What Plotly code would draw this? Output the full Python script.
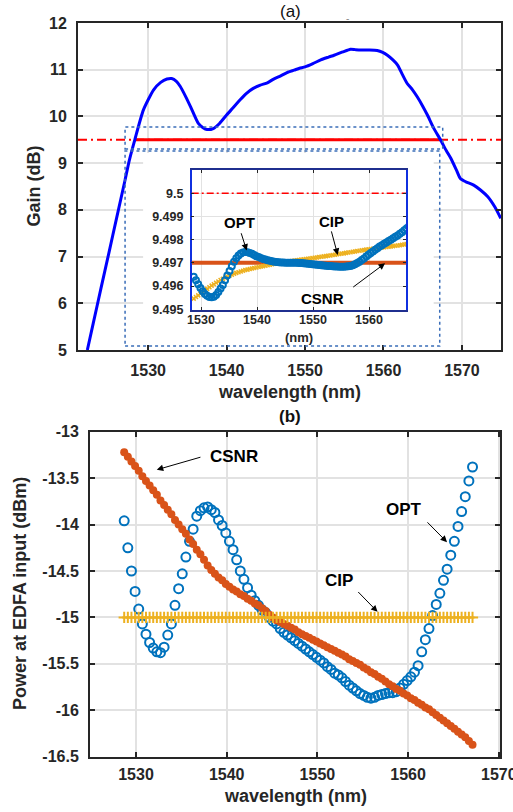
import plotly.graph_objects as go

# ---------------- data ----------------
# (a) EDFA gain spectrum
gain_wl = [1522.25, 1523.0, 1524.0, 1525.0, 1526.0, 1527.06, 1527.6, 1528.3, 1529.4, 1530.7,
           1531.6, 1532.4, 1533.0, 1533.6, 1534.1, 1534.8, 1535.4, 1536.4, 1537.0, 1537.5,
           1538.3, 1539.1, 1540.0, 1540.8, 1541.7, 1542.5, 1543.4, 1544.3, 1545.2, 1546.0,
           1546.9, 1547.7, 1548.6, 1549.3, 1550.0, 1551.0, 1552.0, 1553.0, 1553.7, 1554.8,
           1555.8, 1556.4, 1557.1, 1558.2, 1559.2, 1559.9, 1560.5, 1561.2, 1561.8, 1562.4,
           1563.0, 1563.7, 1564.3, 1565.0, 1565.6, 1566.4, 1567.3, 1568.0, 1568.6, 1569.3,
           1569.8, 1570.5, 1571.5, 1572.4, 1573.3, 1574.2, 1574.95]
gain_db = [5.00, 5.57, 6.33, 7.08, 7.84, 8.64, 9.06, 9.50, 10.14, 10.57,
           10.73, 10.80, 10.81, 10.75, 10.64, 10.42, 10.21, 9.85, 9.76, 9.72,
           9.74, 9.85, 10.03, 10.18, 10.35, 10.49, 10.60, 10.67, 10.72, 10.80,
           10.87, 10.94, 10.99, 11.03, 11.06, 11.13, 11.21, 11.27, 11.31, 11.38,
           11.44, 11.43, 11.42, 11.42, 11.41, 11.37, 11.31, 11.21, 11.10, 10.90,
           10.71, 10.57, 10.42, 10.22, 10.03, 9.75, 9.49, 9.27, 9.10, 8.85,
           8.67, 8.60, 8.53, 8.42, 8.28, 8.06, 7.82]

gain_target = 9.5                 # dB, flat-gain target
flat_band = [1528.3, 1567.3]      # band where gain >= target

# channel wavelengths (nm)
wl = [1528.7, 1529.1, 1529.5, 1529.9, 1530.3, 1530.7, 1531.1, 1531.5, 1531.9, 1532.3,
      1532.7, 1533.1, 1533.5, 1533.9, 1534.3, 1534.7, 1535.1, 1535.5, 1535.9, 1536.3,
      1536.7, 1537.1, 1537.5, 1537.9, 1538.3, 1538.7, 1539.1, 1539.5, 1539.9, 1540.3,
      1540.7, 1541.1, 1541.5, 1541.9, 1542.3, 1542.7, 1543.1, 1543.5, 1543.9, 1544.3,
      1544.7, 1545.1, 1545.5, 1545.9, 1546.3, 1546.7, 1547.1, 1547.5, 1547.9, 1548.3,
      1548.7, 1549.1, 1549.5, 1549.9, 1550.3, 1550.7, 1551.1, 1551.5, 1551.9, 1552.3,
      1552.7, 1553.1, 1553.5, 1553.9, 1554.3, 1554.7, 1555.1, 1555.5, 1555.9, 1556.3,
      1556.7, 1557.1, 1557.5, 1557.9, 1558.3, 1558.7, 1559.1, 1559.5, 1559.9, 1560.3,
      1560.7, 1561.1, 1561.5, 1561.9, 1562.3, 1562.7, 1563.1, 1563.5, 1563.9, 1564.3,
      1564.7, 1565.1, 1565.5, 1565.9, 1566.3, 1566.7, 1567.1]

# inset: gain seen by each channel (dB)
inset_opt = [9.49640, 9.49625, 9.49608, 9.49592, 9.49578, 9.49566, 9.49558, 9.49553, 9.49552, 9.49554,
             9.49562, 9.49575, 9.49590, 9.49605, 9.49625, 9.49646, 9.49665, 9.49685, 9.49705, 9.49720,
             9.49732, 9.49740, 9.49745, 9.49747, 9.49746, 9.49743, 9.49739, 9.49734, 9.49729, 9.49725,
             9.49721, 9.49717, 9.49714, 9.49711, 9.49709, 9.49707, 9.49705, 9.49704, 9.49703, 9.49702,
             9.49702, 9.49701, 9.49701, 9.49701, 9.49701, 9.49700, 9.49700, 9.49699, 9.49699, 9.49698,
             9.49697, 9.49696, 9.49695, 9.49694, 9.49693, 9.49692, 9.49691, 9.49690, 9.49689, 9.49688,
             9.49687, 9.49686, 9.49685, 9.49684, 9.49684, 9.49683, 9.49683, 9.49683, 9.49684, 9.49685,
             9.49687, 9.49690, 9.49694, 9.49699, 9.49705, 9.49712, 9.49719, 9.49727, 9.49735, 9.49742,
             9.49749, 9.49756, 9.49763, 9.49770, 9.49776, 9.49782, 9.49788, 9.49794, 9.49800, 9.49806,
             9.49812, 9.49818, 9.49825, 9.49832, 9.49840, 9.49848, 9.49856]
inset_cip = [9.49546, 9.49553, 9.49560, 9.49567, 9.49574, 9.49581, 9.49588, 9.49595, 9.49602, 9.49608,
             9.49614, 9.49620, 9.49626, 9.49631, 9.49636, 9.49641, 9.49645, 9.49649, 9.49653, 9.49657,
             9.49660, 9.49663, 9.49666, 9.49669, 9.49671, 9.49674, 9.49676, 9.49678, 9.49680, 9.49682,
             9.49684, 9.49686, 9.49688, 9.49690, 9.49692, 9.49694, 9.49696, 9.49698, 9.49699, 9.49701,
             9.49702, 9.49704, 9.49705, 9.49707, 9.49708, 9.49710, 9.49711, 9.49712, 9.49714, 9.49715,
             9.49717, 9.49718, 9.49719, 9.49721, 9.49722, 9.49723, 9.49725, 9.49726, 9.49728, 9.49729,
             9.49731, 9.49732, 9.49734, 9.49735, 9.49737, 9.49738, 9.49740, 9.49741, 9.49743, 9.49745,
             9.49746, 9.49748, 9.49749, 9.49751, 9.49752, 9.49754, 9.49755, 9.49757, 9.49758, 9.49760,
             9.49761, 9.49762, 9.49764, 9.49765, 9.49766, 9.49767, 9.49768, 9.49770, 9.49771, 9.49772,
             9.49774, 9.49775, 9.49776, 9.49778, 9.49779, 9.49781, 9.49782]
inset_csnr_wl = [1528.3, 1567.3]
inset_csnr = [9.497, 9.497]

# (b) channel power at EDFA input (dBm)
p_opt = [-13.96, -14.25, -14.50, -14.72, -14.91, -15.07, -15.18, -15.27, -15.33, -15.37,
         -15.38, -15.32, -15.19, -15.07, -14.87, -14.69, -14.53, -14.35, -14.18, -14.05,
         -13.91, -13.85, -13.82, -13.81, -13.84, -13.87, -13.95, -14.01, -14.09, -14.18,
         -14.27, -14.38, -14.50, -14.59, -14.68, -14.76, -14.82, -14.87, -14.92, -14.95,
         -15.00, -15.04, -15.07, -15.12, -15.16, -15.19, -15.22, -15.25, -15.28, -15.31,
         -15.34, -15.37, -15.40, -15.43, -15.46, -15.49, -15.53, -15.56, -15.60, -15.62,
         -15.65, -15.69, -15.73, -15.76, -15.79, -15.82, -15.84, -15.86, -15.87, -15.86,
         -15.84, -15.83, -15.82, -15.81, -15.81, -15.80, -15.76, -15.72, -15.68, -15.64,
         -15.59, -15.52, -15.37, -15.24, -15.12, -14.98, -14.86, -14.74, -14.60, -14.48,
         -14.33, -14.18, -14.02, -13.86, -13.70, -13.53, -13.38]
p_csnr = [-13.22, -13.27, -13.32, -13.37, -13.42, -13.48, -13.53, -13.58, -13.63, -13.68,
          -13.74, -13.79, -13.84, -13.89, -13.95, -14.00, -14.05, -14.10, -14.16, -14.21,
          -14.27, -14.32, -14.38, -14.44, -14.49, -14.53, -14.57, -14.60, -14.64, -14.67,
          -14.70, -14.72, -14.75, -14.77, -14.80, -14.82, -14.85, -14.87, -14.90, -14.93,
          -14.97, -15.00, -15.03, -15.05, -15.07, -15.09, -15.11, -15.13, -15.16, -15.18,
          -15.20, -15.22, -15.24, -15.26, -15.28, -15.30, -15.32, -15.34, -15.36, -15.38,
          -15.40, -15.42, -15.45, -15.47, -15.49, -15.51, -15.54, -15.56, -15.59, -15.61,
          -15.64, -15.66, -15.69, -15.72, -15.74, -15.77, -15.79, -15.82, -15.84, -15.87,
          -15.89, -15.92, -15.94, -15.97, -15.99, -16.02, -16.05, -16.08, -16.11, -16.14,
          -16.17, -16.20, -16.23, -16.26, -16.29, -16.33, -16.37]
p_cip = [-15.0] * len(wl)

# axis ticks
gain_ticks = [5, 6, 7, 8, 9, 10, 11, 12]
wl_ticks = [1530, 1540, 1550, 1560, 1570]
inset_wl_ticks = [1530, 1540, 1550, 1560]
inset_gain_ticks = [9.495, 9.496, 9.497, 9.498, 9.499, 9.5]
inset_gain_text = ["9.495", "9.496", "9.497", "9.498", "9.499", "9.5"]
power_ticks = [-16.5, -16, -15.5, -15, -14.5, -14, -13.5, -13]
power_text = ["-16.5", "-16", "-15.5", "-15", "-14.5", "-14", "-13.5", "-13"]

# ---------------- styling ----------------
W, H = 513, 812
FONT = "Liberation Sans, Arial, sans-serif"
DARK = "#262626"
GRID = "#E2E2E2"
C_OPT = "#0072BD"
C_CSNR = "#D95319"
C_CIP = "#EDB120"
DASHDOT = "9px,4px,2px,4px"


def px_x(p):
    return p / W


def px_y(p):
    return 1 - p / H


fig = go.Figure()

# ---- (a) gain spectrum ----
xa_range = [1521.06, 1574.98]
fig.add_trace(go.Scatter(x=xa_range, y=[gain_target, gain_target], mode="lines",
                         line=dict(color="#FF0000", width=2, dash=DASHDOT),
                         xaxis="x", yaxis="y", showlegend=False))
fig.add_trace(go.Scatter(x=flat_band, y=[gain_target, gain_target], mode="lines",
                         line=dict(color="#FF0000", width=3),
                         xaxis="x", yaxis="y", showlegend=False))
fig.add_trace(go.Scatter(x=gain_wl, y=gain_db, mode="lines",
                         line=dict(color="#0000FF", width=3, shape="spline", smoothing=0.6),
                         xaxis="x", yaxis="y", showlegend=False))

# ---- inset ----
xi_range = [1528.34, 1566.6]
fig.add_trace(go.Scatter(x=xi_range, y=[gain_target, gain_target], mode="lines",
                         line=dict(color="#FF0000", width=1.5, dash="7px,3px,2px,3px"),
                         xaxis="x2", yaxis="y2", showlegend=False))
fig.add_trace(go.Scatter(x=inset_csnr_wl, y=inset_csnr, mode="lines",
                         line=dict(color=C_CSNR, width=4),
                         xaxis="x2", yaxis="y2", showlegend=False))
fig.add_trace(go.Scatter(x=wl, y=inset_cip, mode="markers",
                         marker=dict(symbol="x-thin-open", size=4, color=C_CIP,
                                     line=dict(color=C_CIP, width=1.5)),
                         xaxis="x2", yaxis="y2", showlegend=False))
fig.add_trace(go.Scatter(x=wl, y=inset_opt, mode="markers",
                         marker=dict(symbol="circle-open", size=6, color=C_OPT, line=dict(width=2)),
                         xaxis="x2", yaxis="y2", showlegend=False))

# ---- (b) input power ----
fig.add_trace(go.Scatter(x=wl, y=p_opt, mode="markers",
                         marker=dict(symbol="circle-open", size=9, color=C_OPT, line=dict(width=2)),
                         xaxis="x3", yaxis="y3", showlegend=False))
fig.add_trace(go.Scatter(x=wl, y=p_csnr, mode="markers",
                         marker=dict(symbol="circle", size=8, color=C_CSNR),
                         xaxis="x3", yaxis="y3", showlegend=False))
fig.add_trace(go.Scatter(x=wl, y=p_cip, mode="markers",
                         marker=dict(symbol="cross-thin-open", size=8, color=C_CIP,
                                     line=dict(color=C_CIP, width=2)),
                         xaxis="x3", yaxis="y3", showlegend=False))

tick_font = dict(family=FONT, size=16, color=DARK, weight="bold")
inset_font = dict(family=FONT, size=12.5, color=DARK, weight="bold")

common = dict(showline=True, linecolor=DARK, linewidth=2, mirror="ticks",
              ticks="inside", ticklen=5, tickwidth=1.5, tickcolor=DARK,
              showgrid=True, gridcolor=GRID, gridwidth=1.5, zeroline=False,
              automargin=False, ticklabeloverflow="allow")
inset_common = dict(showline=True, linewidth=1.5, mirror="ticks",
                    ticks="inside", ticklen=3, tickcolor=DARK, showgrid=True,
                    gridcolor=GRID, gridwidth=1, zeroline=False, automargin=False)

fig.update_layout(
    width=W, height=H, autosize=False,
    margin=dict(l=0, r=0, t=0, b=0, pad=0, autoexpand=False),
    paper_bgcolor="white", plot_bgcolor="white",
    xaxis=dict(domain=[px_x(78), px_x(501)], range=xa_range, anchor="y",
               tickvals=wl_ticks, tickfont=tick_font, ticklabelstandoff=5, **common),
    yaxis=dict(domain=[px_y(350), px_y(23)], range=[5, 12], anchor="x",
               tickvals=gain_ticks, tickfont=tick_font, ticklabelstandoff=6, **common),
    xaxis2=dict(domain=[px_x(191.7), px_x(406)], range=xi_range, anchor="y2",
                tickvals=inset_wl_ticks, tickfont=inset_font, ticklabelstandoff=-3,
                linecolor="#1F2F8F", **inset_common),
    yaxis2=dict(domain=[px_y(310), px_y(170)], range=[9.49497, 9.501], anchor="x2",
                tickvals=inset_gain_ticks, ticktext=inset_gain_text, tickfont=inset_font,
                ticklabelstandoff=4, linecolor="#1030E0", **inset_common),
    xaxis3=dict(domain=[px_x(90), px_x(500)], range=[1524.93, 1570.13], anchor="y3",
                tickvals=wl_ticks, tickfont=tick_font, ticklabelstandoff=2, **common),
    yaxis3=dict(domain=[px_y(756.7), px_y(431.7)], range=[-16.5, -13], anchor="x3",
                tickvals=power_ticks, ticktext=power_text, tickfont=tick_font,
                ticklabelstandoff=6, **common),
)

# white panel behind the inset and the zoom frames
frame = dict(color="#3A6DB8", width=1.5, dash="dot")
fig.add_shape(type="rect", xref="x", yref="y", x0=1529.36, x1=1566.40, y0=5.105, y1=9.216,
              fillcolor="white", line=dict(width=0), layer="between")
fig.add_shape(type="rect", xref="x", yref="y", x0=1527.06, x1=1567.55, y0=9.302, y1=9.773,
              line=frame, layer="above")
fig.add_shape(type="rect", xref="x", yref="y", x0=1527.06, x1=1567.17, y0=5.084, y1=9.259,
              line=frame, layer="above")

ann = []
title_font = dict(family=FONT, size=18, color=DARK, weight="bold")


def paper_text(text, px, py, font, angle=0):
    ann.append(dict(text=text, x=px_x(px), y=px_y(py), xref="paper", yref="paper",
                    xanchor="center", yanchor="middle", textangle=angle,
                    showarrow=False, font=font))


paper_text("Gain (dB)", 33, 186.5, title_font, -90)
paper_text("wavelength (nm)", 289.5, 392, title_font)
paper_text("Power at EDFA input (dBm)", 20, 594, title_font, -90)
paper_text("wavelength (nm)", 295, 796, title_font)
paper_text("(nm)", 299, 337, dict(family=FONT, size=13, color=DARK, weight="bold"))
paper_text("(a)", 290, 12, dict(family=FONT, size=17, color="#111111"))
paper_text("-", 347, 18, dict(family=FONT, size=10, color="#888888"))
paper_text("(b)", 290, 417, dict(family=FONT, size=17, color="#111111", weight="bold"))

lbl_b = dict(family=FONT, size=17, color="black", weight="bold")
lbl_i = dict(family=FONT, size=15, color="black", weight="bold")


def label(text, x, y, xr, yr, font):
    ann.append(dict(text=text, x=x, y=y, xref=xr, yref=yr, xanchor="center", yanchor="middle",
                    showarrow=False, font=font))


def arrow(x0, y0, x1, y1, xr, yr):
    ann.append(dict(text="", x=x1, y=y1, ax=x0, ay=y0, xref=xr, yref=yr, axref=xr, ayref=yr,
                    showarrow=True, arrowhead=2, arrowsize=1.3, arrowwidth=1, arrowcolor="black"))


# panel (b) labels
label("CSNR", 1540.76, -13.27, "x3", "y3", lbl_b)
arrow(1537.27, -13.27, 1532.29, -13.41, "x3", "y3")
label("OPT", 1559.57, -13.84, "x3", "y3", lbl_b)
arrow(1561.97, -13.96, 1564.29, -14.19, "x3", "y3")
label("CIP", 1552.38, -14.60, "x3", "y3", lbl_b)
arrow(1554.34, -14.71, 1556.63, -14.94, "x3", "y3")

# inset labels
label("OPT", 1536.79, 9.49876, "x2", "y2", lbl_i)
arrow(1537.09, 9.49834, 1538.16, 9.49753, "x2", "y2")
label("CIP", 1553.34, 9.49878, "x2", "y2", lbl_i)
arrow(1553.21, 9.49842, 1554.41, 9.49734, "x2", "y2")
label("CSNR", 1551.66, 9.49547, "x2", "y2", lbl_i)
arrow(1556.91, 9.49591, 1562.86, 9.49698, "x2", "y2")

fig.update_layout(annotations=ann)

fig.write_html("out.html")
